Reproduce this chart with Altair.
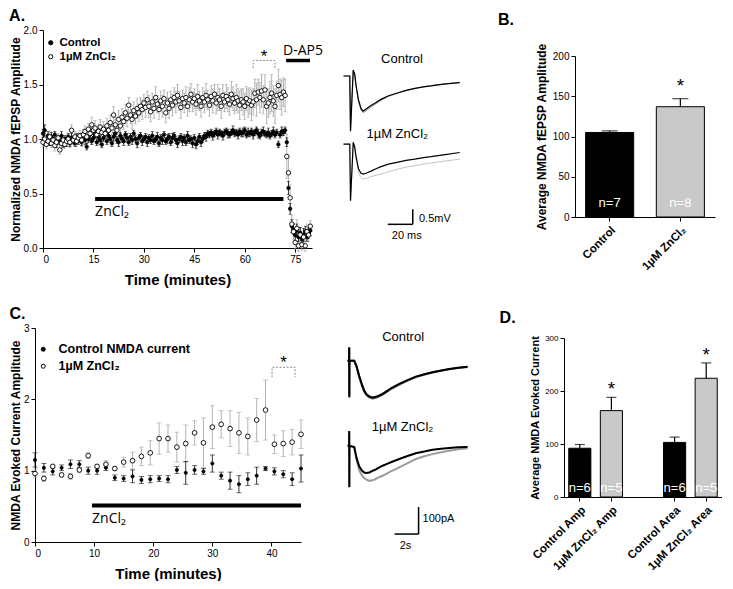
import altair as alt
import pandas as pd

FONT = "Liberation Sans"
ZN = "1µM ZnCl₂"

# ---------------- Panel A: fEPSP time course (0.5 min sampling) ----------------
a_step = 0.5
ctrl_a = [
    1.05, 1.08, 0.98, 1.03, 0.97, 1.02, 0.99, 1.04, 0.96, 1.00,
    0.98, 1.03, 0.95, 1.00, 0.97, 1.02, 0.96, 1.01, 0.99, 0.96,
    1.02, 0.98, 1.01, 0.97, 1.03, 0.99, 0.93, 1.00, 1.04, 0.98,
    1.01, 1.05, 0.97, 1.02, 0.99, 0.95, 1.01, 1.06, 0.98, 1.03,
    1.00, 0.96, 1.02, 1.05, 0.99, 0.97, 1.03, 1.00, 0.98, 1.04,
    1.01, 0.97, 1.02, 0.99, 1.05, 1.00, 0.96, 1.01, 1.03, 0.98,
    1.00, 1.02, 0.97, 1.01, 0.99, 1.03, 0.98, 1.00, 1.02, 0.96,
    1.01, 0.99, 1.04, 0.98, 1.00, 1.02, 0.97, 1.01, 1.03, 0.99,
    0.96, 1.00, 1.02, 0.98, 1.01, 0.97, 1.03, 0.99, 1.00, 0.96,
    1.01, 0.95, 0.98, 1.02, 0.97, 1.00, 1.03, 1.02, 1.05, 1.04,
    1.06, 1.03, 1.05, 1.07, 1.04, 1.06, 1.05, 1.03, 1.06, 1.07,
    1.05, 1.04, 1.06, 1.08, 1.05, 1.06, 1.04, 1.07, 1.05, 1.06,
    1.08, 1.04, 1.06, 1.05, 1.07, 1.04, 1.06, 1.08, 1.05, 1.03,
    1.06, 1.07, 1.05, 1.04, 1.06, 1.03, 1.05, 1.07, 1.04, 1.06,
    0.95, 1.04, 1.07, 1.06, 1.08, 0.97, 0.55, 0.36, 0.20, 0.17,
    0.12, 0.16, 0.10, 0.14, 0.08, 0.12, 0.15, 0.10, 0.14, 0.16,
]
ctrl_a_err = [
    0.04, 0.05, 0.03, 0.04, 0.03, 0.04, 0.03, 0.03, 0.04, 0.03,
    0.03, 0.04, 0.03, 0.03, 0.04, 0.03, 0.03, 0.04, 0.03, 0.03,
    0.03, 0.03, 0.04, 0.03, 0.03, 0.04, 0.03, 0.03, 0.04, 0.03,
    0.03, 0.04, 0.03, 0.03, 0.04, 0.03, 0.03, 0.04, 0.03, 0.03,
    0.03, 0.03, 0.04, 0.03, 0.03, 0.04, 0.03, 0.03, 0.04, 0.03,
    0.04, 0.03, 0.03, 0.04, 0.03, 0.03, 0.04, 0.03, 0.03, 0.04,
    0.03, 0.03, 0.04, 0.03, 0.03, 0.04, 0.03, 0.03, 0.04, 0.03,
    0.03, 0.04, 0.03, 0.03, 0.04, 0.03, 0.03, 0.04, 0.03, 0.03,
    0.04, 0.03, 0.03, 0.04, 0.03, 0.03, 0.04, 0.03, 0.03, 0.04,
    0.03, 0.04, 0.03, 0.03, 0.04, 0.03, 0.03, 0.04, 0.03, 0.03,
    0.03, 0.04, 0.03, 0.03, 0.04, 0.03, 0.03, 0.04, 0.03, 0.03,
    0.04, 0.03, 0.03, 0.04, 0.03, 0.03, 0.04, 0.03, 0.03, 0.04,
    0.03, 0.03, 0.04, 0.03, 0.03, 0.04, 0.03, 0.03, 0.04, 0.03,
    0.03, 0.04, 0.03, 0.03, 0.04, 0.03, 0.03, 0.04, 0.03, 0.03,
    0.03, 0.03, 0.04, 0.03, 0.03, 0.04, 0.06, 0.05, 0.06, 0.05,
    0.05, 0.06, 0.04, 0.05, 0.04, 0.06, 0.05, 0.04, 0.05, 0.05,
]
zn_a = [
    0.97, 1.00, 0.95, 0.98, 1.02, 0.96, 0.99, 0.94, 0.97, 1.01,
    0.90, 0.96, 0.99, 0.95, 0.98, 1.00, 0.97, 1.08, 0.99, 1.02,
    0.98, 1.01, 1.03, 0.99, 1.04, 1.07, 1.02, 1.09, 1.05, 1.13,
    1.08, 1.10, 1.04, 1.07, 1.11, 1.06, 1.09, 1.05, 1.12, 1.08,
    1.15, 1.10, 1.22, 1.13, 1.08, 1.18, 1.12, 1.20, 1.16, 1.24,
    1.19, 1.31, 1.22, 1.18, 1.26, 1.21, 1.28, 1.24, 1.30, 1.27,
    1.33, 1.29, 1.36, 1.30, 1.25, 1.34, 1.28, 1.38, 1.32, 1.27,
    1.35, 1.30, 1.37, 1.24, 1.33, 1.28, 1.36, 1.31, 1.38, 1.34,
    1.40, 1.35, 1.29, 1.37, 1.33, 1.38, 1.30, 1.36, 1.41, 1.34,
    1.37, 1.32, 1.39, 1.35, 1.30, 1.38, 1.34, 1.40, 1.36, 1.31,
    1.39, 1.35, 1.41, 1.33, 1.38, 1.36, 1.30, 1.40, 1.34, 1.39,
    1.36, 1.32, 1.41, 1.37, 1.33, 1.38, 1.35, 1.31, 1.36, 1.34,
    1.30, 1.37, 1.33, 1.35, 1.31, 1.34, 1.42, 1.36, 1.43, 1.38,
    1.44, 1.36, 1.45, 1.30, 1.33, 1.38, 1.42, 1.35, 1.30, 1.40,
    1.49, 1.41, 1.38, 1.43, 1.40, 0.84, 0.69, 0.46, 0.22, 0.15,
    0.05, 0.18, 0.02, 0.12, 0.03, 0.10, 0.02, 0.15, 0.12, 0.20,
]
zn_a_err = [
    0.04, 0.05, 0.04, 0.03, 0.05, 0.04, 0.04, 0.05, 0.04, 0.04,
    0.04, 0.05, 0.04, 0.04, 0.05, 0.04, 0.05, 0.05, 0.04, 0.05,
    0.05, 0.04, 0.05, 0.06, 0.05, 0.05, 0.06, 0.05, 0.06, 0.07,
    0.06, 0.07, 0.06, 0.06, 0.07, 0.06, 0.07, 0.06, 0.07, 0.06,
    0.07, 0.06, 0.08, 0.07, 0.06, 0.08, 0.07, 0.08, 0.07, 0.08,
    0.08, 0.07, 0.08, 0.09, 0.08, 0.07, 0.09, 0.08, 0.08, 0.09,
    0.08, 0.09, 0.08, 0.10, 0.09, 0.08, 0.09, 0.10, 0.08, 0.09,
    0.09, 0.10, 0.08, 0.09, 0.10, 0.09, 0.08, 0.10, 0.09, 0.10,
    0.10, 0.09, 0.10, 0.08, 0.09, 0.10, 0.09, 0.11, 0.10, 0.09,
    0.09, 0.10, 0.11, 0.09, 0.10, 0.09, 0.10, 0.11, 0.09, 0.10,
    0.10, 0.11, 0.09, 0.10, 0.12, 0.10, 0.11, 0.10, 0.09, 0.11,
    0.11, 0.10, 0.12, 0.11, 0.10, 0.12, 0.11, 0.13, 0.10, 0.12,
    0.12, 0.11, 0.13, 0.12, 0.14, 0.12, 0.13, 0.15, 0.12, 0.14,
    0.15, 0.13, 0.14, 0.16, 0.13, 0.15, 0.17, 0.14, 0.16, 0.13,
    0.15, 0.14, 0.16, 0.13, 0.15, 0.20, 0.15, 0.12, 0.08, 0.07,
    0.06, 0.08, 0.05, 0.07, 0.05, 0.06, 0.05, 0.07, 0.06, 0.05,
]
a_xticks = [0, 15, 30, 45, 60, 75]
a_yticks = [0, 0.5, 1.0, 1.5, 2.0]
a_zn_period = [15.5, 71.5]
a_zn_level = 0.45
a_dap5_period = [72.3, 79.4]
a_dap5_level = 1.72
a_sig_period = [62.5, 69.0]
a_sig_levels = [1.65, 1.72]

# ---------------- Panel A traces (ms, mV) ----------------
a_tr_t = [0, 5, 5.6, 7.8, 9, 10, 12, 14, 15.7, 18, 22, 26, 30, 36, 43.7, 50, 57, 64, 70, 80, 93]
a_ctl_black = [0, 0, -1.83, 0.2, 0.05, -0.3, -0.8, -1.08, -1.17, -1.1, -0.98, -0.88, -0.78, -0.66, -0.56, -0.48, -0.41, -0.36, -0.33, -0.27, -0.22]
a_ctl_gray = [0, 0, -1.85, 0.18, 0.03, -0.33, -0.85, -1.13, -1.22, -1.16, -1.03, -0.92, -0.81, -0.68, -0.57, -0.49, -0.42, -0.36, -0.32, -0.27, -0.21]
a_zn_black = [0, 0, -1.89, 0.06, -0.1, -0.4, -0.82, -0.97, -1.0, -0.97, -0.9, -0.82, -0.75, -0.67, -0.6, -0.54, -0.5, -0.45, -0.42, -0.36, -0.28]
a_zn_gray = [0, 0, -1.9, 0.04, -0.15, -0.5, -0.95, -1.12, -1.17, -1.15, -1.08, -1.04, -1.0, -0.92, -0.83, -0.77, -0.72, -0.67, -0.63, -0.57, -0.5]
a_zn_offset = -2.27
a_lab_t = [46.8, 43.0]
a_lab_v = [0.57, -1.93]
a_lab_txt = ["Control", ZN]
a_sb = dict(x0=35.4, y0=-4.944, dx=20, dy=0.5)
a_sb_txt = ["0.5mV", "20 ms"]
a_sb_txt_t = [60.4, 50.6]
a_sb_txt_v = [-4.77, -5.33]
a_next_letter = dict(txt="B.", t=123.6, v=1.70)

# ---------------- Panel B ----------------
b_cond = ["Control", ZN]
b_mean = [105, 137]
b_sem = [2, 10]
b_n = ["n=7", "n=8"]
b_n_level = 18
b_star_cond = [ZN]
b_star_level = [166]

# ---------------- Panel C: evoked current (1.5 min sampling) ----------------
c_step = 1.5
ctrl_c = [1.15, 1.04, 0.99, 1.04, 1.09, 1.09, 1.00, 1.00, 1.04, 0.90, 0.89, 0.92, 0.87, 0.88, 0.89, 0.88,
          1.01, 0.97, 1.01, 0.99, 1.10, 0.93, 0.86, 0.81, 0.88, 0.93, 1.03, 0.99, 0.95, 0.88, 1.03]
ctrl_c_err = [0.10, 0.06, 0.05, 0.04, 0.06, 0.05, 0.05, 0.05, 0.04, 0.04, 0.04, 0.09, 0.05, 0.05, 0.04, 0.05,
              0.05, 0.16, 0.06, 0.04, 0.12, 0.05, 0.12, 0.12, 0.09, 0.12, 0.03, 0.05, 0.05, 0.09, 0.19]
zn_c = [0.96, 0.89, 1.06, 0.94, 0.92, 1.01, 1.21, 1.06, 1.09, 1.03, 1.12, 1.14, 1.20, 1.25, 1.45, 1.45,
        1.33, 1.38, 1.53, 1.39, 1.61, 1.65, 1.59, 1.53, 1.48, 1.71, 1.85, 1.37, 1.38, 1.40, 1.51]
zn_c_err = [0.05, 0.04, 0.03, 0.03, 0.04, 0.04, 0.04, 0.03, 0.05, 0.03, 0.07, 0.12, 0.13, 0.17, 0.22, 0.19,
            0.21, 0.26, 0.17, 0.35, 0.30, 0.19, 0.25, 0.29, 0.26, 0.30, 0.42, 0.13, 0.18, 0.18, 0.20]
c_xticks = [0, 10, 20, 30, 40]
c_yticks = [0, 1, 2, 3]
c_zn_period = [9.65, 45.0]
c_zn_level = 0.51
c_sig_period = [40.1, 44.0]
c_sig_levels = [2.31, 2.45]

# ---------------- Panel C traces (s, pA) ----------------
c_tr_t = [0, 0.13, 0.14, 0.15, 0.16, 0.56, 0.75, 0.97, 1.2, 1.39, 1.6, 1.81, 2.08, 2.3, 2.5, 2.92, 3.3, 3.61,
          4.31, 5.0, 5.69, 6.4, 7.08, 7.8, 8.47, 9.2, 10.0]
c_ctl_black = [0, 0, 50, -136, 0, 0, -20, -56, -88, -111, -125, -132, -136, -134, -132, -123, -112, -102,
               -86, -72, -59, -50, -43, -36, -31, -26, -22]
c_ctl_gray = [0, 0, 48, -130, 0, 0, -22, -60, -92, -114, -128, -136, -140, -138, -135, -126, -115, -105,
              -89, -74, -61, -51, -44, -37, -32, -27, -23]
c_zn_black = [0, 0, 55, -154, 0, -5, -45, -76, -92, -99, -101, -99, -93, -89, -84, -74, -67, -61,
              -49, -38, -28, -21, -15, -11, -8.5, -6, -5]
c_zn_gray = [0, 0, 50, -150, 0, -6, -50, -90, -110, -120, -126, -130, -128, -124, -119, -111, -102, -95,
             -80, -64, -49, -39, -31, -24, -18.5, -13, -9.6]
c_zn_offset = -315
c_lab_t = [4.63, 4.58]
c_lab_v = [87.5, -246]
c_lab_txt = ["Control", ZN]
c_sb = dict(x0=3.92, y0=-642, dx=2, dy=100)
c_sb_txt = ["100pA", "2s"]
c_sb_txt_t = [6.25, 4.83]
c_sb_txt_v = [-586, -687]
c_next_letter = dict(txt="D.", t=12.67, v=140)

# ---------------- Panel D ----------------
d_cond = ["Control Amp", ZN + " Amp", "Control Area", ZN + " Area"]
d_domain = ["Control Amp", ZN + " Amp", " ", "Control Area", ZN + " Area"]
d_mean = [92, 163, 103, 224]
d_sem = [7, 25, 10, 29]
d_n = ["n=6", "n=5", "n=6", "n=5"]
d_n_level = 17
d_fill = ["black", "#c9c9c9", "black", "#c9c9c9"]
d_star_cond = [ZN + " Amp", ZN + " Area"]
d_star_level = [211, 275]


def ax(**kw):
    d = dict(domainColor="black", tickColor="black", labelColor="black", titleColor="black",
             grid=False, labelFont=FONT, titleFont=FONT, domainWidth=1, tickWidth=1)
    d.update(kw)
    return alt.Axis(**d)


def series_frame(step, vals, errs, name):
    return pd.DataFrame({
        "t": [i * step for i in range(len(vals))],
        "v": vals,
        "lo": [v - e for v, e in zip(vals, errs)],
        "hi": [v + e for v, e in zip(vals, errs)],
        "series": name,
    })


def timecourse(df_c, df_z, ctrl_name, xdom, xticks, ydom, yticks, yfmt, ytitle, legend, w, h, title,
               zn_period, zn_level, sig_period, sig_levels, pt_sizes, cap_sizes, ypads, extra=None):
    xsc = alt.Scale(domain=xdom, nice=False, zero=False)
    ysc = alt.Scale(domain=ydom, nice=False, zero=False)
    xax = ax(values=xticks, title="Time (minutes)", titleFontSize=15, titleFontWeight="bold",
             labelFontSize=10, tickSize=4, titlePadding=8)
    yax = ax(values=yticks, format=yfmt, title=ytitle, titleFontSize=12, titleFontWeight="bold",
             labelFontSize=10, tickSize=4, titlePadding=ypads[0], labelPadding=ypads[1])

    def X(f="t:Q"):
        return alt.X(f, scale=xsc, axis=xax)

    def Y(f="v:Q"):
        return alt.Y(f, scale=ysc, axis=yax)

    layers = []
    for df, col, cs in ((df_z, "#a0a0a0", cap_sizes[1]), (df_c, "black", cap_sizes[0])):
        base = alt.Chart(df)
        layers.append(base.mark_rule(color=col, strokeWidth=0.8).encode(x=X(), y=Y("lo:Q"), y2="hi:Q"))
        layers.append(base.mark_tick(color=col, orient="horizontal", size=cs, thickness=0.8)
                      .encode(x=X(), y=Y("hi:Q")))
        layers.append(base.mark_tick(color=col, orient="horizontal", size=cs, thickness=0.8)
                      .encode(x=X(), y=Y("lo:Q")))

    fsc = alt.Scale(domain=[ctrl_name, ZN], range=["black", "white"])
    layers.append(alt.Chart(df_c).mark_point(filled=True, stroke="black", strokeWidth=0.8, size=pt_sizes[0], opacity=1)
                  .encode(x=X(), y=Y(), fill=alt.Fill("series:N", scale=fsc, legend=legend)))
    layers.append(alt.Chart(df_z).mark_point(filled=True, stroke="black", strokeWidth=0.9, size=pt_sizes[1], opacity=1)
                  .encode(x=X(), y=Y(), fill=alt.Fill("series:N", scale=fsc, legend=legend)))

    znb = pd.DataFrame({"t": [zn_period[0]], "t2": [zn_period[1]], "v": [zn_level], "label": ["ZnCl₂"]})
    layers.append(alt.Chart(znb).mark_rule(color="black", strokeWidth=4).encode(x=X(), x2="t2:Q", y=Y()))
    layers.append(alt.Chart(znb).mark_text(align="left", baseline="top", dy=6, fontSize=14, font="Open Sans", color="black")
                  .encode(x=X(), y=Y(), text="label:N"))

    s, e = sig_period
    lo, hi = sig_levels
    br = pd.DataFrame({"t": [s, s, e, e], "v": [lo, hi, hi, lo], "o": [0, 1, 2, 3]})
    layers.append(alt.Chart(br).mark_line(color="#8a8a8a", strokeDash=[2, 1.5], strokeWidth=1)
                  .encode(x=X(), y=Y(), order="o:Q"))
    st = pd.DataFrame({"t": [(s + e) / 2], "v": [hi]})
    layers.append(alt.Chart(st).mark_text(text="*", fontSize=17, font=FONT, baseline="alphabetic", dy=1, color="black")
                  .encode(x=X(), y=Y()))
    if extra is not None:
        layers.extend(extra(X, Y))

    return alt.layer(*layers).properties(
        width=w, height=h,
        title=alt.TitleParams(title, anchor="start", frame="bounds", fontSize=16, fontWeight="bold",
                              font=FONT, color="black", offset=1))


def dap5_layers(X, Y):
    d = pd.DataFrame({"t": [a_dap5_period[0]], "t2": [a_dap5_period[1]], "v": [a_dap5_level], "label": ["D-AP5"]})
    return [
        alt.Chart(d).mark_rule(color="black", strokeWidth=3.5).encode(x=X(), x2="t2:Q", y=Y()),
        alt.Chart(d).mark_text(align="left", baseline="bottom", dx=-3, dy=-3, fontSize=14, font="Open Sans", color="black")
        .encode(x=X(), y=Y(), text="label:N"),
    ]


# ---------- build A ----------
dfa_c = series_frame(a_step, ctrl_a, ctrl_a_err, "Control")
dfa_z = series_frame(a_step, zn_a, zn_a_err, ZN)
leg_a = alt.Legend(title=None, orient="none", legendX=2, legendY=7, padding=0, labelFont=FONT, labelFontSize=11.5,
                   labelFontWeight="bold", labelColor="black", symbolType="circle", symbolSize=18,
                   symbolStrokeColor="black", symbolStrokeWidth=1, rowPadding=1, labelOffset=3)
panel_a = timecourse(dfa_c, dfa_z, "Control", [0, 80], a_xticks, [0, 2], a_yticks, ".1f",
                     "Normalized NMDA fEPSP Amplitude", leg_a, 269, 218, "A.",
                     a_zn_period, a_zn_level, a_sig_period, a_sig_levels, [12, 20], [3, 3], [1, 2],
                     extra=dap5_layers)

# ---------- build C ----------
CTRL_C = "Control NMDA current"
dfc_c = series_frame(c_step, ctrl_c, ctrl_c_err, CTRL_C)
dfc_z = series_frame(c_step, zn_c, zn_c_err, ZN)
leg_c = alt.Legend(title=None, orient="none", legendX=2, legendY=15, padding=0, labelFont=FONT, labelFontSize=12.5,
                   labelFontWeight="bold", labelColor="black", symbolType="circle", symbolSize=16,
                   symbolStrokeColor="black", symbolStrokeWidth=1, rowPadding=4, labelOffset=9)
panel_c = timecourse(dfc_c, dfc_z, CTRL_C, [0, 45], c_xticks, [0, 3], c_yticks, "d",
                     "NMDA Evoked Current Amplitude", leg_c, 266, 214, "C.",
                     c_zn_period, c_zn_level, c_sig_period, c_sig_levels, [10, 22], [5, 5], [1, 2])


# ---------- trace panels (also carry the next panel's letter) ----------
def trace_panel(t, ctl_b, ctl_g, zn_b, zn_g, zn_off, xdom, ydom, w, h, lab_t, lab_v, lab_txt,
                sb, sb_txt, sb_t, sb_v, widths, grays, letter):
    xsc = alt.Scale(domain=xdom, nice=False, zero=False)
    ysc = alt.Scale(domain=ydom, nice=False, zero=False)
    X = alt.X("t:Q", scale=xsc, axis=None)
    Y = alt.Y("v:Q", scale=ysc, axis=None)
    layers = []
    for vals, off, col, sw in ((ctl_g, 0, grays[0], widths[0]), (ctl_b, 0, "black", widths[1]),
                               (zn_g, zn_off, grays[1], widths[0]), (zn_b, zn_off, "black", widths[1])):
        df = pd.DataFrame({"t": t, "v": [v + off for v in vals]})
        layers.append(alt.Chart(df).mark_line(color=col, strokeWidth=sw).encode(x=X, y=Y))
    lab = pd.DataFrame({"t": lab_t, "v": lab_v, "txt": lab_txt})
    layers.append(alt.Chart(lab).mark_text(fontSize=13, font=FONT, color="black").encode(x=X, y=Y, text="txt:N"))
    x1 = sb["x0"] + sb["dx"]
    sbd = pd.DataFrame({"t": [sb["x0"], x1], "t2": [x1, x1], "v": [sb["y0"], sb["y0"]],
                        "v2": [sb["y0"], sb["y0"] + sb["dy"]]})
    layers.append(alt.Chart(sbd).mark_rule(color="black", strokeWidth=1.5).encode(x=X, x2="t2:Q", y=Y, y2="v2:Q"))
    sbt1 = pd.DataFrame({"t": [sb_t[0]], "v": [sb_v[0]], "txt": [sb_txt[0]]})
    sbt2 = pd.DataFrame({"t": [sb_t[1]], "v": [sb_v[1]], "txt": [sb_txt[1]]})
    layers.append(alt.Chart(sbt1).mark_text(align="left", fontSize=11, font=FONT, color="black").encode(x=X, y=Y, text="txt:N"))
    layers.append(alt.Chart(sbt2).mark_text(align="center", fontSize=11, font=FONT, color="black").encode(x=X, y=Y, text="txt:N"))
    let = pd.DataFrame({"t": [letter["t"]], "v": [letter["v"]], "txt": [letter["txt"]]})
    layers.append(alt.Chart(let).mark_text(align="left", baseline="alphabetic", fontSize=16, fontWeight="bold",
                                           font=FONT, color="black").encode(x=X, y=Y, text="txt:N"))
    return alt.layer(*layers).properties(width=w, height=h)


trace_a = trace_panel(a_tr_t, a_ctl_black, a_ctl_gray, a_zn_black, a_zn_gray, a_zn_offset,
                      [-15.6, 153.2], [-5.733, 1.533], 211, 218, a_lab_t, a_lab_v, a_lab_txt,
                      a_sb, a_sb_txt, a_sb_txt_t, a_sb_txt_v, [1.0, 1.2], ["#8c8c8c", "#c4c4c4"], a_next_letter)
trace_c = trace_panel(c_tr_t, c_ctl_black, c_ctl_gray, c_zn_black, c_zn_gray, c_zn_offset,
                      [-3.46, 15.12], [-723.3, 121.1], 223, 228, c_lab_t, c_lab_v, c_lab_txt,
                      c_sb, c_sb_txt, c_sb_txt_t, c_sb_txt_v, [2.0, 2.0], ["#555555", "#9c9c9c"], c_next_letter)


# ---------- bar panels ----------
def bar_panel(cond, domain, axis_values, means, sems, fills, ns, n_level, star_cond, star_level,
              ymax, yticks, ytitle, w, h, pin, pout, cap, ylab_size, ytitle_size, xlab_size, star_dy):
    df = pd.DataFrame({"cond": cond, "mean": means, "hi": [m + s for m, s in zip(means, sems)],
                       "n": ns, "nl": [n_level] * len(cond)})
    xsc = alt.Scale(domain=domain, paddingInner=pin, paddingOuter=pout)
    xax = ax(values=axis_values, title=None, labelAngle=-45, labelFontSize=xlab_size, labelFontWeight="bold",
             tickSize=4, labelPadding=3)
    yax = ax(values=yticks, title=ytitle, titleFontSize=ytitle_size, titleFontWeight="bold",
             labelFontSize=ylab_size, tickSize=4, titlePadding=4)
    X = alt.X("cond:N", scale=xsc, axis=xax, sort=domain)

    def Y(f):
        return alt.Y(f, scale=alt.Scale(domain=[0, ymax], nice=False), axis=yax)

    base = alt.Chart(df)
    bars = base.mark_bar(stroke="black", strokeWidth=1).encode(
        x=X, y=Y("mean:Q"),
        fill=alt.Fill("cond:N", scale=alt.Scale(domain=cond, range=fills), legend=None))
    err = base.mark_rule(color="black", strokeWidth=1.2).encode(x=X, y=Y("mean:Q"), y2="hi:Q")
    capm = base.mark_tick(color="black", orient="horizontal", size=cap, thickness=1.2).encode(x=X, y=Y("hi:Q"))
    ntext = base.mark_text(color="white", fontSize=13, font=FONT).encode(x=X, y=Y("nl:Q"), text="n:N")
    sdf = pd.DataFrame({"cond": star_cond, "level": star_level})
    star = alt.Chart(sdf).mark_text(text="*", fontSize=19, font=FONT, color="black", dy=star_dy).encode(x=X, y=Y("level:Q"))
    return alt.layer(bars, err, capm, ntext, star).properties(width=w, height=h)


def spacer(w, h):
    return alt.Chart(pd.DataFrame({"s": [0.5]})).mark_point(size=0, opacity=0).encode(
        x=alt.X("s:Q", scale=alt.Scale(domain=[0, 1]), axis=None),
        y=alt.Y("s:Q", scale=alt.Scale(domain=[0, 1]), axis=None),
    ).properties(width=w, height=h)


panel_b = bar_panel(b_cond, b_cond, b_cond, b_mean, b_sem, ["black", "#c9c9c9"], b_n, b_n_level,
                    b_star_cond, b_star_level, 200, [0, 50, 100, 150, 200], "Average NMDA fEPSP Amplitude",
                    140, 161, 0.32, 0.15, 16, 10, 12, 11.5, 3)
panel_d = bar_panel(d_cond, d_domain, d_cond, d_mean, d_sem, d_fill, d_n, d_n_level,
                    d_star_cond, d_star_level, 300, [0, 100, 200, 300], "Average NMDA Evoked Current",
                    158, 159, 0.3, 0.15, 10, 8, 11, 11.5, 4)

col_b = alt.vconcat(spacer(140, 12), panel_b, spacing=0)
col_d = alt.vconcat(spacer(158, 6), panel_d, spacing=0)

row1 = alt.hconcat(spacer(1, 1), panel_a, trace_a, col_b, spacing=0).resolve_scale(fill="independent")
row2 = alt.hconcat(spacer(1, 1), panel_c, trace_c, col_d, spacing=0).resolve_scale(fill="independent")

chart = (
    alt.vconcat(row1, row2, spacing=19)
    .resolve_scale(fill="independent")
    .properties(padding=0, background="white")
    .configure(font=FONT)
    .configure_view(stroke=None)
)

chart.save("out.html", embed_options={"renderer": "svg", "actions": False})
